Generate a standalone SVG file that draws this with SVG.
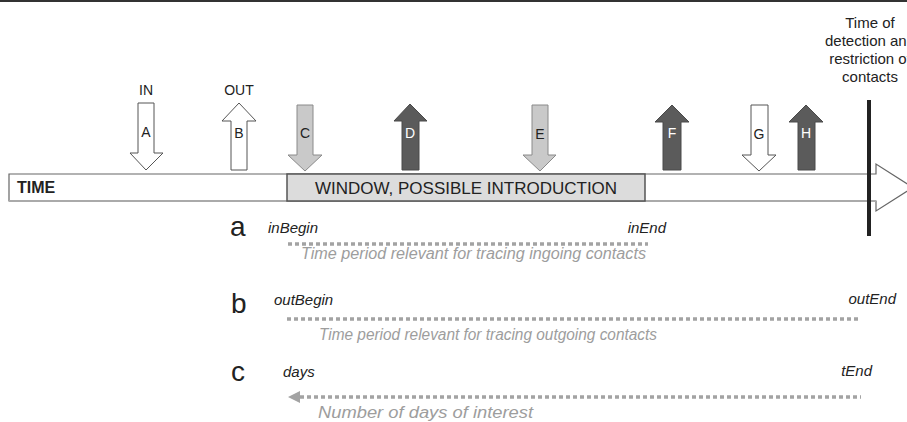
<svg xmlns="http://www.w3.org/2000/svg" width="907" height="422" viewBox="0 0 907 422">
<style>
text{font-family:"Liberation Sans",Arial,sans-serif}
.lbl{font-size:14px;fill:#222;text-anchor:middle}
.lblw{font-size:14px;fill:#fff;text-anchor:middle}
.wht{fill:#fff;stroke:#555;stroke-width:1}
.lgt{fill:#c9c9c9;stroke:#8a8a8a;stroke-width:1}
.drk{fill:#5b5b5b;stroke:#4a4a4a;stroke-width:1}
.it{font-style:italic;font-size:15px;fill:#222}
.itg{font-style:italic;font-size:16px;fill:#9d9d9d}
.big{font-size:28px;fill:#222}
.dot{stroke:#a3a3a3;stroke-width:3.5;stroke-dasharray:4 3;fill:none}
.top{font-size:15px;fill:#222;text-anchor:middle}
</style>
<rect x="0" y="0" width="907" height="422" fill="#fff"/>
<rect x="0" y="0" width="907" height="2" fill="#333"/>
<g id="timeline">
<path d="M9,174 L876,174 L876,164 L913,187.5 L876,211 L876,201 L9,201 Z" fill="#fff" stroke="#666" stroke-width="1.2"/>
<line x1="9" y1="201" x2="876" y2="201" stroke="#aaa" stroke-width="2"/>
<text x="17" y="193" font-size="16" font-weight="bold" fill="#222">TIME</text>
</g>
<g id="window">
<rect x="287" y="174" width="358" height="27" fill="#dcdcdc" stroke="#555" stroke-width="1.5"/>
<text x="466" y="194" font-size="17" fill="#222" text-anchor="middle">WINDOW, POSSIBLE INTRODUCTION</text>
</g>
<g id="detection">
<line x1="869" y1="100" x2="869" y2="236" stroke="#222" stroke-width="4"/>
<text class="top" x="870" y="28">Time of</text>
<text class="top" x="870" y="46">detection and</text>
<text class="top" x="870" y="64">restriction of</text>
<text class="top" x="870" y="82">contacts</text>
</g>
<g id="arrowA">
<text class="lbl" x="146" y="95">IN</text>
<path class="wht" d="M138,103 L154,103 L154,153 L163,153 L146,170 L130,153 L138,153 Z"/>
<text class="lbl" x="146" y="137">A</text>
</g>
<g id="arrowB">
<text class="lbl" x="239" y="95">OUT</text>
<path class="wht" d="M231,170 L247,170 L247,121 L256,121 L239,103 L222,121 L231,121 Z"/>
<text class="lbl" x="239" y="138">B</text>
</g>
<g id="arrowC">
<path class="lgt" d="M297,105 L313,105 L313,155 L322,155 L305,171 L288,155 L297,155 Z"/>
<text class="lbl" x="305" y="138">C</text>
</g>
<g id="arrowD">
<path class="drk" d="M402,170 L419,170 L419,121 L427,121 L410,104 L394,121 L402,121 Z"/>
<text class="lblw" x="410" y="138">D</text>
</g>
<g id="arrowE">
<path class="lgt" d="M532,105 L548,105 L548,155 L556,155 L540,171 L523,155 L532,155 Z"/>
<text class="lbl" x="540" y="139">E</text>
</g>
<g id="arrowF">
<path class="drk" d="M663,170 L681,170 L681,122 L689,122 L672,105 L655,122 L663,122 Z"/>
<text class="lblw" x="672" y="138">F</text>
</g>
<g id="arrowG">
<path class="wht" d="M751,105 L768,105 L768,155 L776,155 L759,171 L742,155 L751,155 Z"/>
<text class="lbl" x="759" y="139">G</text>
</g>
<g id="arrowH">
<path class="drk" d="M798,170 L815,170 L815,122 L823,122 L806,105 L789,122 L798,122 Z"/>
<text class="lblw" x="806" y="138">H</text>
</g>
<g id="rowA">
<text class="big" x="230" y="236">a</text>
<text class="it" x="268" y="233">inBegin</text>
<text class="it" x="666" y="233" text-anchor="end">inEnd</text>
<text class="itg" x="301" y="259" textLength="345" lengthAdjust="spacingAndGlyphs">Time period relevant for tracing ingoing contacts</text>
</g>
<g id="rowB">
<text class="big" x="231" y="313">b</text>
<text class="it" x="274" y="305">outBegin</text>
<text class="it" x="896" y="304" text-anchor="end">outEnd</text>
<text class="itg" x="319" y="340" textLength="338" lengthAdjust="spacingAndGlyphs">Time period relevant for tracing outgoing contacts</text>
</g>
<g id="rowC">
<text class="big" x="231" y="381">c</text>
<text class="it" x="283" y="377">days</text>
<text class="it" x="872" y="376" text-anchor="end">tEnd</text>
<text class="itg" x="318" y="418" font-size="17" textLength="215" lengthAdjust="spacingAndGlyphs">Number of days of interest</text>
</g>
<g id="connectors">
<line class="dot" x1="288" y1="244" x2="648" y2="244"/>
<line class="dot" x1="287" y1="319" x2="861" y2="319"/>
<line class="dot" x1="300" y1="397" x2="861" y2="397"/>
<polygon points="288,397 300,391 300,403" fill="#a3a3a3"/>
</g>
</svg>
